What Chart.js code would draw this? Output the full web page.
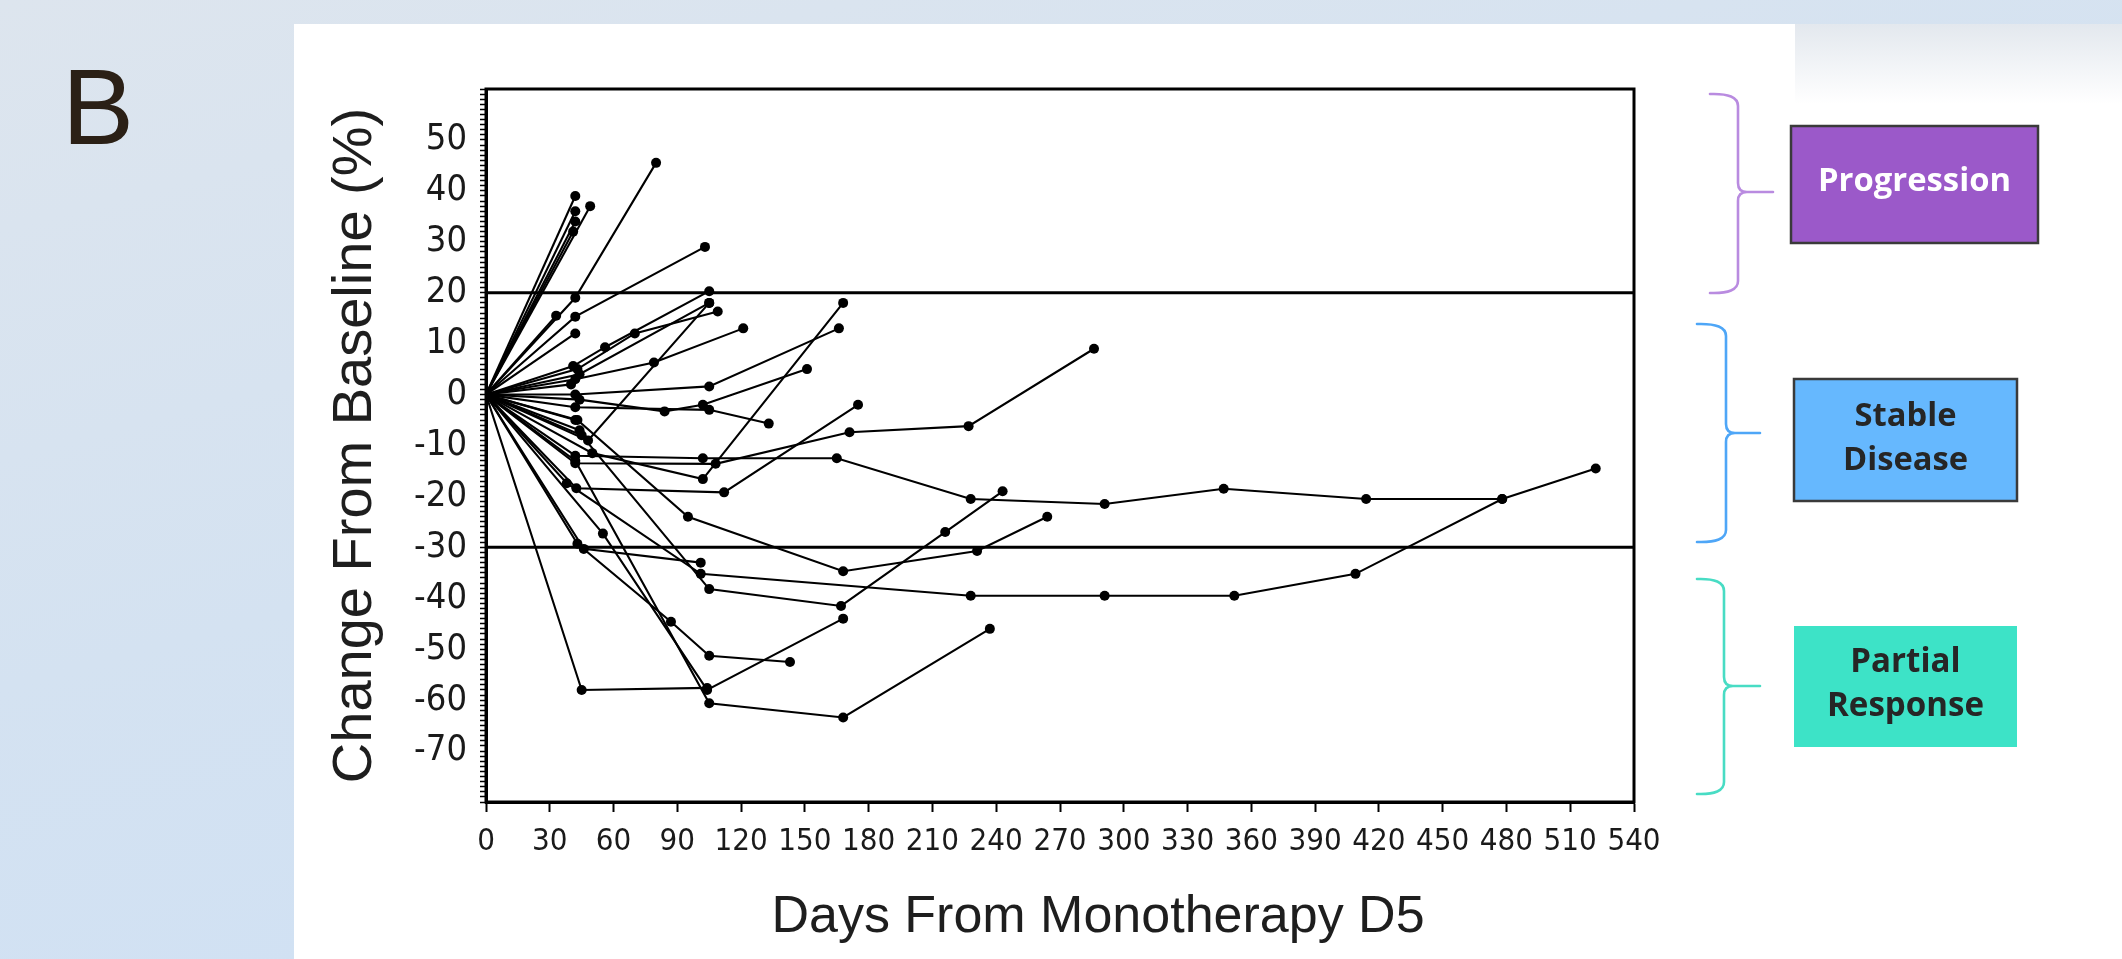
<!DOCTYPE html>
<html>
<head>
<meta charset="utf-8">
<script src="https://cdn.jsdelivr.net/npm/chart.js@4.4.1/dist/chart.umd.min.js"></script>
<style>
  html, body { margin:0; padding:0; }
  body { width:2122px; height:959px; overflow:hidden; position:relative;
         background: linear-gradient(165deg, #dde5ee 0%, #d4e2f1 45%, #cde0f6 100%); }
  #panel { position:absolute; left:294px; top:24px; right:0; bottom:0; background:#ffffff; }
  #fade { position:absolute; left:1795px; top:24px; width:327px; height:80px;
          background: linear-gradient(to bottom, #e3e8ee, #ffffff); }
  #c { position:absolute; left:0; top:0; }
</style>
</head>
<body>
<div id="panel"></div>
<div id="fade"></div>
<canvas id="c" width="2122" height="959"></canvas>
<script>
// ---------------- DATA (days from monotherapy D5, % change from baseline) ----------------
const pt01 = [[0,0],[42,39]];
const pt02 = [[0,0],[42,36]];
const pt03 = [[0,0],[49,37]];
const pt04 = [[0,0],[42,34]];
const pt05 = [[0,0],[41,32]];
const pt06 = [[0,0],[42,19],[80,45.5]];
const pt07 = [[0,0],[33,15.5]];
const pt08 = [[0,0],[42,15.3],[103,29]];
const pt09 = [[0,0],[42,12]];
const pt10 = [[0,0],[41,5.6],[56,9.3],[105,20.3]];
const pt11 = [[0,0],[43,5],[70,12],[109,16.3]];
const pt12 = [[0,0],[44,4],[105,18]];
const pt13 = [[0,0],[48,-9],[105,18]];
const pt14 = [[0,0],[42,3],[79,6.3],[121,13]];
const pt15 = [[0,0],[42,0],[105,1.6],[166,13]];
const pt16 = [[0,0],[44,-1],[84,-3.3],[102,-2],[151,5]];
const pt17 = [[0,0],[42,-2.5],[105,-3],[133,-5.7]];
const pt18 = [[0,0],[42,-12],[102,-12.5],[165,-12.5],[228,-20.5],[291,-21.5],[347,-18.5],[414,-20.5],[478,-20.5]];
const pt19 = [[0,0],[42,-13.5],[108,-13.6],[171,-7.4],[227,-6.2],[286,9]];
const pt20 = [[0,0],[50,-11.5],[102,-16.6],[168,18]];
const pt21 = [[0,0],[42.5,-18.4],[112,-19.2],[175,-2]];
const pt22 = [[0,0],[43,-5],[95,-24],[168,-34.7],[231,-30.7],[264,-24]];
const pt23 = [[0,0],[45,-8],[105,-38.2],[167,-41.5],[216,-27],[243,-19]];
const pt24 = [[0,0],[38,-17.4],[101,-35.2],[228,-39.5],[291,-39.5],[352,-39.5],[409,-35.2],[478,-20.5],[522,-14.5]];
const pt25 = [[0,0],[55,-27.3],[104,-58],[168,-44]];
const pt26 = [[0,0],[45,-58],[104,-57.6]];
const pt27 = [[0,0],[42,-13],[105,-60.6],[168,-63.4],[237,-46]];
const pt28 = [[0,0],[43,-29.3],[87,-44.6],[105,-51.3],[143,-52.5]];
const pt29 = [[0,0],[46,-30.3],[101,-33]];
const pt30 = [[0,0],[42,-5]];
const pt31 = [[0,0],[44,-7]];
const pt32 = [[0,0],[40,2]];

const patients = [pt01,pt02,pt03,pt04,pt05,pt06,pt07,pt08,pt09,pt10,pt11,pt12,pt13,pt14,pt15,pt16,
                  pt17,pt18,pt19,pt20,pt21,pt22,pt23,pt24,pt25,pt26,pt27,pt28,pt29,pt30,pt31,pt32];

const refLevels = [20, -30];              // progression / partial response thresholds
const xMin = 0, xMax = 540, xStep = 30;   // x tick labels 0..540 by 30
const yMin = -80, yMax = 60;
const yTickLabels = [50, 40, 30, 20, 10, 0, -10, -20, -30, -40, -50, -60, -70];

const yTitle = 'Change From Baseline (%)';
const xTitle = 'Days From Monotherapy D5';
const panelLetter = 'B';
const categoryBoxes = [
  { lines: ['Progression'] },
  { lines: ['Stable', 'Disease'] },
  { lines: ['Partial', 'Response'] }
];

// ---------------- font helpers ----------------
function hasFont(name) {
  const c = document.createElement('canvas').getContext('2d');
  const s = '0123456789 abcdefghij';
  c.font = '40px monospace'; const w1 = c.measureText(s).width;
  c.font = '40px "' + name + '", monospace'; const w2 = c.measureText(s).width;
  return Math.abs(w1 - w2) > 0.5;
}
let narrowFam = '"Liberation Sans", Arial, sans-serif', narrowScale = 0.86;
if (hasFont('Liberation Sans Narrow')) { narrowFam = '"Liberation Sans Narrow", sans-serif'; narrowScale = 1; }
else if (hasFont('DejaVu Sans Condensed')) { narrowFam = '"DejaVu Sans Condensed", sans-serif'; narrowScale = 0.95; }

const mctx = document.createElement('canvas').getContext('2d');
function fitSize(text, weight, family, targetW) {
  mctx.font = weight + ' 100px ' + family;
  return 100 * targetW / mctx.measureText(text).width;
}

// ---------------- decoration plugin ----------------
function drawBrace(ctx, xl, xv, xt, yTop, yMid, yBot, color) {
  ctx.save();
  ctx.strokeStyle = color; ctx.lineWidth = 2.6; ctx.lineCap = 'round'; ctx.lineJoin = 'round';
  ctx.beginPath();
  ctx.moveTo(xl, yTop);
  ctx.quadraticCurveTo(xv, yTop - 1, xv, yTop + 12);
  ctx.lineTo(xv, yMid - 9);
  ctx.quadraticCurveTo(xv, yMid, xv + 9, yMid);
  ctx.lineTo(xt, yMid);
  ctx.moveTo(xv + 9, yMid);
  ctx.quadraticCurveTo(xv, yMid, xv, yMid + 9);
  ctx.lineTo(xv, yBot - 12);
  ctx.quadraticCurveTo(xv, yBot + 1, xl, yBot);
  ctx.stroke();
  ctx.restore();
}

const decor = {
  id: 'decor',
  afterDraw(chart) {
    const ctx = chart.ctx, a = chart.chartArea;
    ctx.save();
    // plot frame
    ctx.strokeStyle = '#000'; ctx.lineWidth = 3;
    ctx.strokeRect(a.left, a.top, a.right - a.left, a.bottom - a.top);

    // x axis title
    ctx.fillStyle = '#1e1e1e';
    ctx.font = '52px "Liberation Sans", Arial, sans-serif';
    ctx.textAlign = 'center'; ctx.textBaseline = 'middle';
    ctx.fillText(xTitle, (a.left + a.right) / 2 + 38, 918);

    // panel letter
    ctx.fillStyle = '#2b2016';
    ctx.font = '108px "Liberation Sans", Arial, sans-serif';
    ctx.textAlign = 'left'; ctx.textBaseline = 'alphabetic';
    ctx.fillText(panelLetter, 62, 144);

    // braces
    drawBrace(ctx, 1710, 1738, 1773, 94, 192, 293, '#b98be0');
    drawBrace(ctx, 1697, 1726, 1760, 324, 433, 542, '#4ea6f7');
    drawBrace(ctx, 1697, 1724, 1760, 579, 686, 794, '#48dcc4');

    // boxes
    const boxFam = '"Open Sans", "Noto Sans", sans-serif';
    const boxSpec = [
      { x:1791, y:126, w:247, h:117, fill:'#9b59c9', stroke:'#3a3a3a', color:'#ffffff', ys:[182], fitW:193 },
      { x:1794, y:379, w:223, h:122, fill:'#66b8fe', stroke:'#3a3a3a', color:'#262626', ys:[417, 461], fitW:125 },
      { x:1794, y:626, w:223, h:121, fill:'#3de3c7', stroke:null, color:'#262626', ys:[663, 707], fitW:157 }
    ];
    boxSpec.forEach((b, i) => {
      ctx.fillStyle = b.fill;
      ctx.fillRect(b.x, b.y, b.w, b.h);
      if (b.stroke) { ctx.strokeStyle = b.stroke; ctx.lineWidth = 2.5; ctx.strokeRect(b.x, b.y, b.w, b.h); }
      const lines = categoryBoxes[i].lines;
      mctx.font = '700 100px ' + boxFam;
      const widest = lines.reduce((m, t) => mctx.measureText(t).width > mctx.measureText(m).width ? t : m, lines[0]);
      const size = fitSize(widest, '700', boxFam, b.fitW);
      ctx.font = '700 ' + size.toFixed(1) + 'px ' + boxFam;
      ctx.fillStyle = b.color; ctx.textAlign = 'center'; ctx.textBaseline = 'middle';
      lines.forEach((t, k) => ctx.fillText(t, b.x + b.w / 2, b.ys[k]));
    });
    ctx.restore();
  }
};

// ---------------- chart ----------------
const datasets = patients.map(p => ({
  data: p.map(([x, y]) => ({ x, y })),
  showLine: true,
  borderColor: '#000',
  backgroundColor: '#000',
  borderWidth: 2.1,
  pointRadius: 5,
  pointBackgroundColor: '#000',
  pointBorderWidth: 0,
  tension: 0
}));
refLevels.forEach(v => datasets.push({
  data: [{ x: xMin, y: v }, { x: xMax, y: v }],
  showLine: true, borderColor: '#000', borderWidth: 3, pointRadius: 0
}));

const yTickFont = { family: narrowFam, size: Math.round(38 * narrowScale) };
const xTickFont = { family: narrowFam, size: Math.round(33 * narrowScale) };

new Chart(document.getElementById('c'), {
  type: 'scatter',
  data: { datasets },
  options: {
    responsive: false,
    animation: false,
    devicePixelRatio: 1,
    layout: { padding: { left: 300, top: 89, right: 488, bottom: 87 } },
    plugins: { legend: { display: false }, tooltip: { enabled: false } },
    scales: {
      x: {
        type: 'linear', min: xMin, max: xMax,
        afterFit: s => { s.height = 70; },
        ticks: { stepSize: xStep, autoSkip: false, maxRotation: 0, padding: 11, color: '#1a1a1a', font: xTickFont },
        grid: { display: true, drawOnChartArea: false, drawTicks: true, tickLength: 10, tickWidth: 2, color: '#000' },
        border: { display: true, color: '#000', width: 3 }
      },
      y: {
        type: 'linear', min: yMin, max: yMax,
        afterFit: s => { s.width = 186; },
        ticks: {
          stepSize: 1, autoSkip: false, padding: 13, color: '#1a1a1a', font: yTickFont,
          callback: v => (yTickLabels.includes(Math.round(v)) && Math.abs(v - Math.round(v)) < 1e-6) ? String(Math.round(v)) : ''
        },
        grid: { display: true, drawOnChartArea: false, drawTicks: true, tickLength: 6, tickWidth: 1.5, color: '#000' },
        border: { display: true, color: '#000', width: 3 },
        title: {
          display: true, text: yTitle, color: '#1e1e1e',
          font: { family: '"Liberation Sans", Arial, sans-serif', size: 56 },
          padding: { top: 22, bottom: 0 }
        }
      }
    }
  },
  plugins: [decor]
});
</script>
</body>
</html>
